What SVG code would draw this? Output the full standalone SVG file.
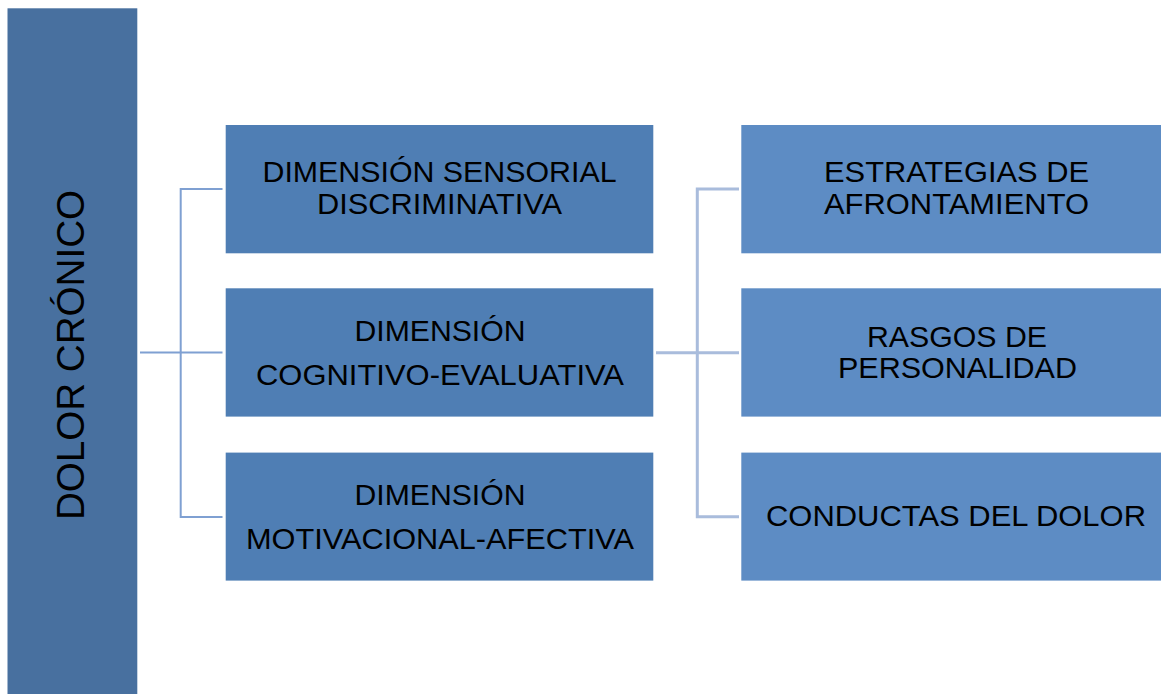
<svg xmlns="http://www.w3.org/2000/svg" width="1161" height="694" viewBox="0 0 1161 694">
<style>
.t{font-family:"Liberation Sans",Arial,sans-serif;font-size:29.5px;fill:#000;text-anchor:middle}
.big{font-size:39px}
.mid{fill:#4f7eb4}
.right{fill:#5d8cc4}
.c1{fill:none;stroke:#7fa0d2;stroke-width:2}
.c2{fill:none;stroke:#a9bcdc;stroke-width:3}
</style>
<rect width="1161" height="694" fill="#ffffff"/>
<g id="dolor-cronico">
<rect x="7.5" y="8.3" width="129.8" height="690" fill="#48709f"/>
<text class="t big" transform="translate(83.5,355) rotate(-90)" textLength="330" lengthAdjust="spacingAndGlyphs">DOLOR CRÓNICO</text>
</g>
<g id="connectors">
<path class="c1" d="M140,352.5 H222.5 M222.5,189 H180.7 V517 H222.5"/>
<path class="c2" d="M656,352.7 H739 M739,189 H697.3 V516.7 H739"/>
</g>
<g id="sensorial">
<rect class="mid" x="225.7" y="125" width="427.6" height="128.3"/>
<text class="t" x="439.5" y="182.3" textLength="354" lengthAdjust="spacingAndGlyphs">DIMENSIÓN SENSORIAL</text>
<text class="t" x="439.5" y="213.5" textLength="245" lengthAdjust="spacingAndGlyphs">DISCRIMINATIVA</text>
</g>
<g id="cognitivo">
<rect class="mid" x="225.7" y="288.3" width="427.6" height="128.3"/>
<text class="t" x="440" y="340.5" textLength="171" lengthAdjust="spacingAndGlyphs">DIMENSIÓN</text>
<text class="t" x="440" y="384.5" textLength="368" lengthAdjust="spacingAndGlyphs">COGNITIVO-EVALUATIVA</text>
</g>
<g id="motivacional">
<rect class="mid" x="225.7" y="452.6" width="427.6" height="128"/>
<text class="t" x="440" y="504.5" textLength="171" lengthAdjust="spacingAndGlyphs">DIMENSIÓN</text>
<text class="t" x="440" y="548.5" textLength="388" lengthAdjust="spacingAndGlyphs">MOTIVACIONAL-AFECTIVA</text>
</g>
<g id="estrategias">
<rect class="right" x="741.3" y="125" width="420" height="128.3"/>
<text class="t" x="956.5" y="182.3" textLength="265" lengthAdjust="spacingAndGlyphs">ESTRATEGIAS DE</text>
<text class="t" x="956.5" y="213.5" textLength="265" lengthAdjust="spacingAndGlyphs">AFRONTAMIENTO</text>
</g>
<g id="rasgos">
<rect class="right" x="741.3" y="288.3" width="420" height="128.3"/>
<text class="t" x="957" y="346.5" textLength="180" lengthAdjust="spacingAndGlyphs">RASGOS DE</text>
<text class="t" x="957.5" y="377.5" textLength="239" lengthAdjust="spacingAndGlyphs">PERSONALIDAD</text>
</g>
<g id="conductas">
<rect class="right" x="741.3" y="452.6" width="420" height="128"/>
<text class="t" x="956" y="525.5" textLength="380" lengthAdjust="spacingAndGlyphs">CONDUCTAS DEL DOLOR</text>
</g>
</svg>
